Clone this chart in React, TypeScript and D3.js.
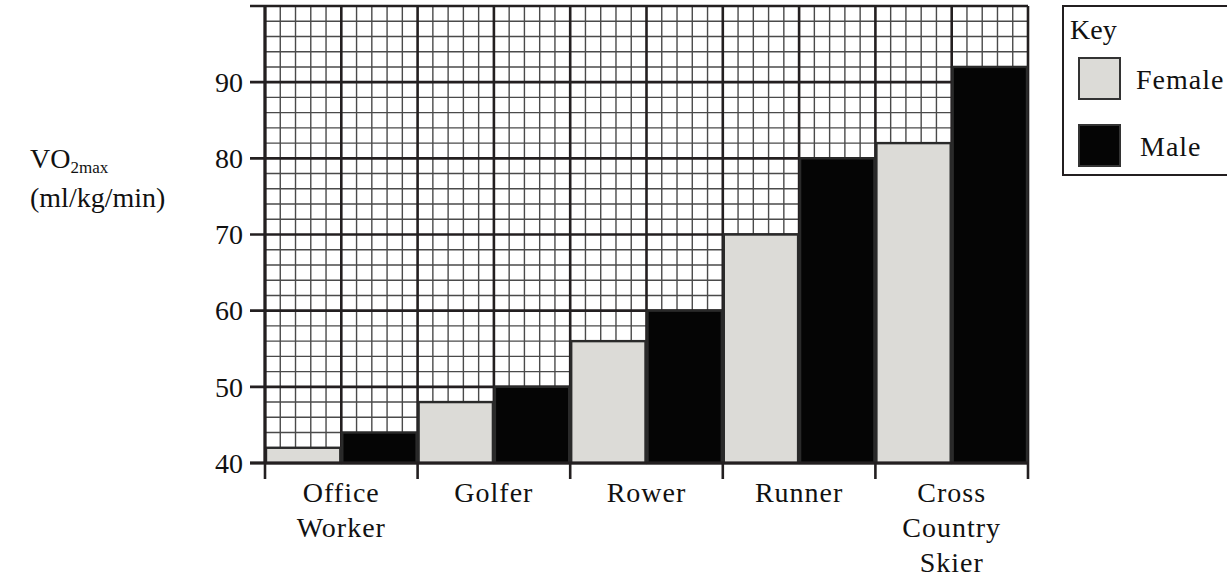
import React from "react";
import * as d3 from "d3";

const categories: string[][] = [
  ["Office", "Worker"],
  ["Golfer"],
  ["Rower"],
  ["Runner"],
  ["Cross", "Country", "Skier"],
];
const seriesNames = ["Female", "Male"];
const femaleValues = [42, 48, 56, 70, 82];
const maleValues = [44, 50, 60, 80, 92];
const yTicks = [40, 50, 60, 70, 80, 90];
const yDomain = [40, 100];

const W = 1227;
const H = 579;
const FONT = "Liberation Serif, DejaVu Serif, serif";
const FEMALE_COLOR = "#dcdbd7";
const MALE_COLOR = "#050505";

export default function App() {
  const left = 265;
  const right = 1028;
  const top = 6;
  const bottom = 463;

  const keys = categories.map((c) => c.join(" "));
  const x = d3.scaleBand<string>().domain(keys).range([left, right]).paddingInner(0).paddingOuter(0);
  const xs = d3.scaleBand<string>().domain(seriesNames).range([0, x.bandwidth()]).padding(0);
  const y = d3.scaleLinear().domain(yDomain).range([bottom, top]);

  const cellsX = keys.length * seriesNames.length * 5;
  const gx = d3.scaleLinear().domain([0, cellsX]).range([left, right]);
  const vLines = d3.range(0, cellsX + 1);
  const hLines = d3.range(yDomain[0], yDomain[1] + 0.001, 2);

  const values = [femaleValues, maleValues];
  const colors = [FEMALE_COLOR, MALE_COLOR];
  const txt = { fontFamily: FONT, fill: "#111" } as const;

  return (
    <svg width={W} height={H} style={{ position: "absolute", left: 0, top: 0, background: "#fff" }}>
      <g>
        {vLines.filter((i) => i % 5 !== 0).map((i) => (
          <line key={"v" + i} x1={gx(i)} x2={gx(i)} y1={top} y2={bottom} stroke="#4a4a4a" strokeWidth={1.4} />
        ))}
        {hLines.filter((v) => v % 10 !== 0).map((v) => (
          <line key={"h" + v} x1={left} x2={right} y1={y(v)} y2={y(v)} stroke="#4a4a4a" strokeWidth={1.4} />
        ))}
      </g>
      <g>
        {vLines.filter((i) => i % 5 === 0).map((i) => (
          <line key={"V" + i} x1={gx(i)} x2={gx(i)} y1={top} y2={bottom} stroke="#231f20" strokeWidth={2.6} />
        ))}
        {hLines.filter((v) => v % 10 === 0).map((v) => (
          <line key={"H" + v} x1={left - 15} x2={right} y1={y(v)} y2={y(v)} stroke="#231f20" strokeWidth={2.6} />
        ))}
      </g>
      <g>
        {keys.map((k, ci) =>
          seriesNames.map((s, si) => {
            const v = values[si][ci];
            const x0 = (x(k) as number) + (xs(s) as number);
            return (
              <rect
                key={k + s}
                x={x0 + 1}
                y={y(v)}
                width={xs.bandwidth() - 2}
                height={bottom - y(v)}
                fill={colors[si]}
                stroke="#2a2a2a"
                strokeWidth={2.4}
              />
            );
          })
        )}
      </g>
      <line x1={left - 15} x2={right} y1={bottom} y2={bottom} stroke="#231f20" strokeWidth={3} />
      <line x1={left} x2={left} y1={top} y2={bottom} stroke="#231f20" strokeWidth={3} />
      {keys.concat(["end"]).map((k, i) => {
        const xx = i < keys.length ? (x(k) as number) : right;
        return <line key={"t" + i} x1={xx} x2={xx} y1={bottom} y2={bottom + 16} stroke="#231f20" strokeWidth={2.6} />;
      })}
      {yTicks.map((t) => (
        <text key={"yl" + t} x={243} y={y(t)} dy="0.35em" textAnchor="end" fontSize={28} {...txt}>
          {t}
        </text>
      ))}
      {categories.map((lines, ci) => (
        <text key={"xl" + ci} textAnchor="middle" fontSize={28} letterSpacing={1} {...txt}>
          {lines.map((ln, li) => (
            <tspan key={li} x={(x(keys[ci]) as number) + x.bandwidth() / 2} y={502 + li * 35}>
              {ln}
            </tspan>
          ))}
        </text>
      ))}
      <text x={30} y={168} fontSize={28} {...txt}>
        VO<tspan fontSize={17} dy={5}>2max</tspan>
      </text>
      <text x={30} y={207} fontSize={28} {...txt}>
        (ml/kg/min)
      </text>
      <g>
        <rect x={1063} y={6} width={200} height={169} fill="#fff" stroke="#231f20" strokeWidth={2} />
        <text x={1070} y={39} fontSize={28} {...txt}>Key</text>
        {seriesNames.map((s, i) => (
          <g key={"lg" + s}>
            <rect x={1079} y={58 + i * 67} width={41} height={41} fill={colors[i]} stroke="#333" strokeWidth={2} />
            <text x={1136 + i * 4} y={79 + i * 67} dy="0.35em" fontSize={28} letterSpacing={1} {...txt}>
              {s}
            </text>
          </g>
        ))}
      </g>
    </svg>
  );
}
